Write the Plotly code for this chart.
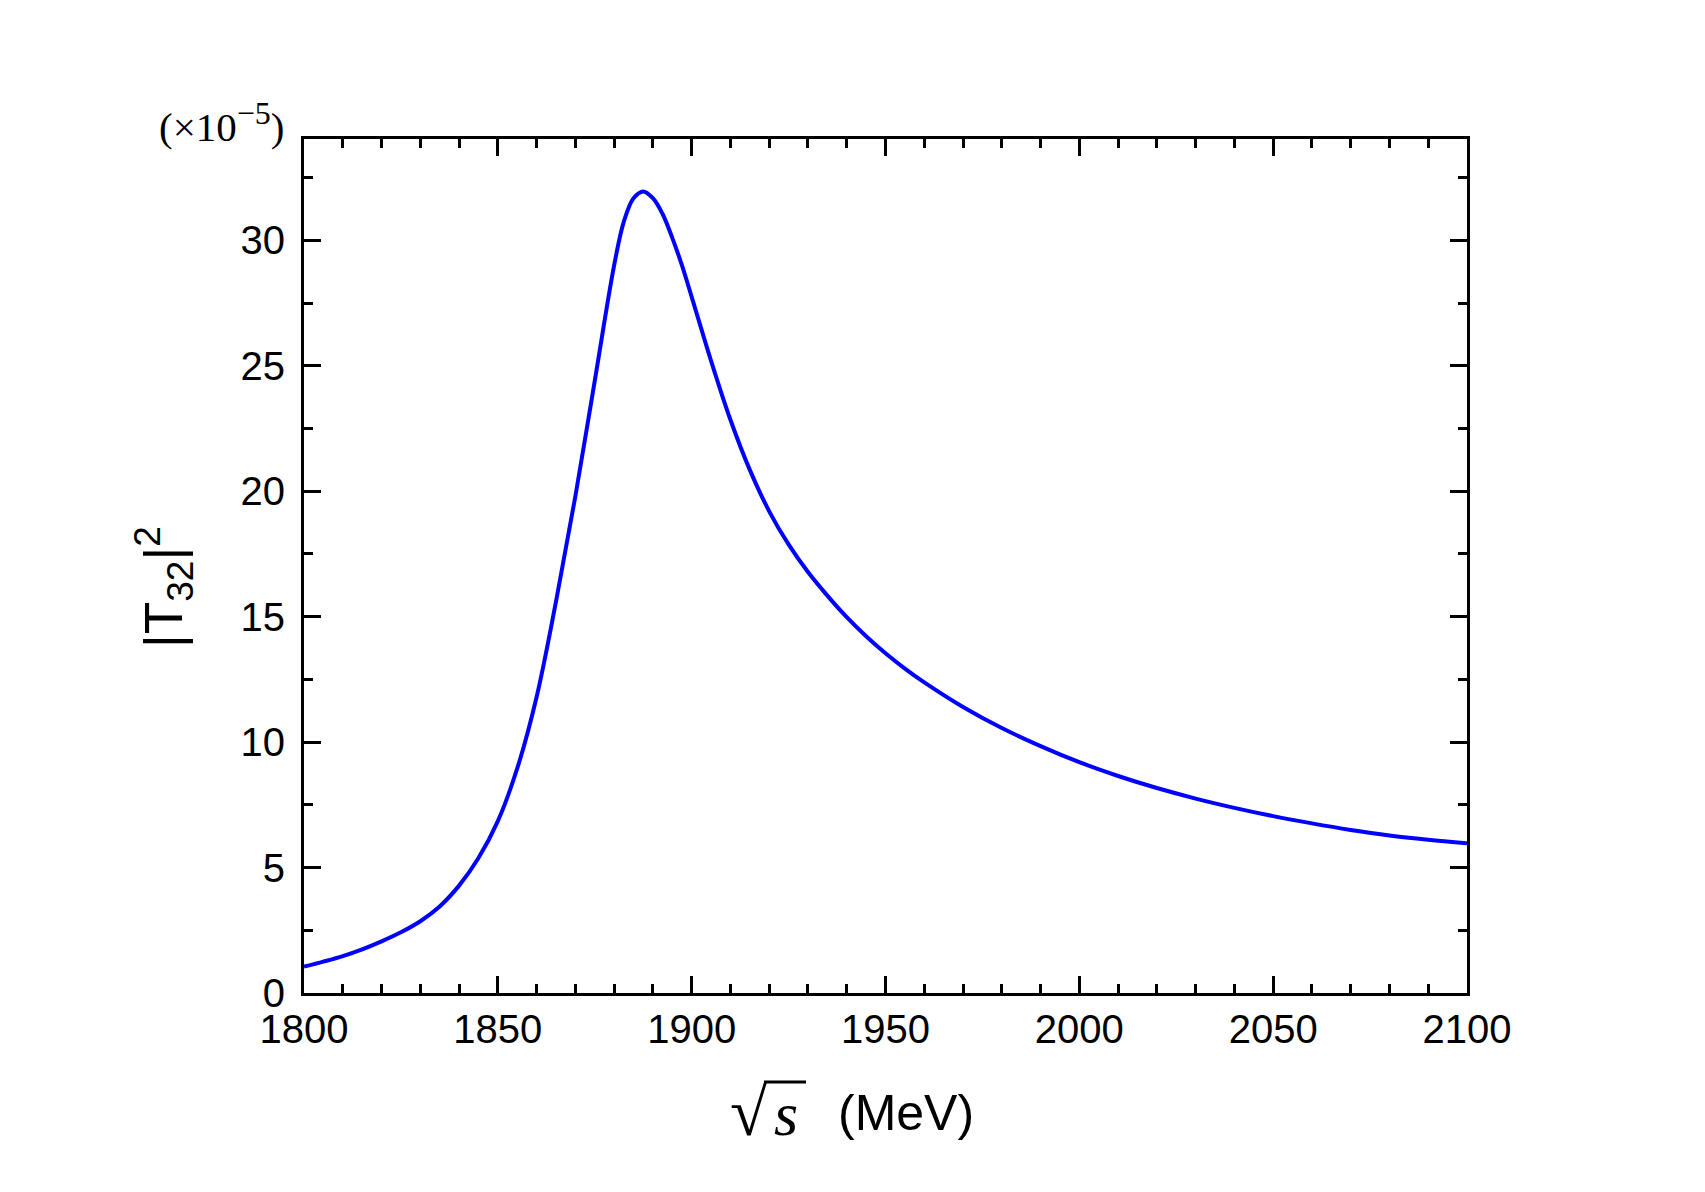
import plotly.graph_objects as go

# Data
sqrt_s = [1800, 1805, 1810, 1815, 1820, 1825, 1830, 1835, 1840, 1845,
          1850, 1855, 1860, 1865, 1870, 1875, 1880, 1882.5, 1885, 1887.5,
          1890, 1892.5, 1895, 1897.5, 1900, 1905, 1910, 1915, 1920, 1925,
          1930, 1935, 1940, 1945, 1950, 1955, 1960, 1970, 1980, 1990,
          2000, 2010, 2020, 2030, 2040, 2050, 2060, 2070, 2080, 2090, 2100]
t32_sq = [1.05, 1.25, 1.47, 1.74, 2.06, 2.42, 2.86, 3.45, 4.28, 5.38,
          6.85, 8.95, 11.8, 15.6, 19.8, 24.4, 29.0, 30.75, 31.68, 31.95,
          31.68, 31.05, 30.1, 29.0, 27.75, 25.2, 22.85, 20.85, 19.2, 17.88,
          16.78, 15.84, 14.98, 14.22, 13.54, 12.93, 12.38, 11.40, 10.56, 9.84,
          9.20, 8.65, 8.17, 7.75, 7.38, 7.05, 6.76, 6.50, 6.28, 6.11, 5.97]

x_ticks = [1800, 1850, 1900, 1950, 2000, 2050, 2100]
y_ticks = [0, 5, 10, 15, 20, 25, 30]

W, H = 1705, 1192
L, R, T, B = 304, 1467, 139, 993


def px(xp):
    return (xp - L) / (R - L)


def py(yp):
    return (B - yp) / (B - T)


fig = go.Figure()
fig.add_trace(go.Scatter(
    x=sqrt_s, y=t32_sq, mode="lines",
    line=dict(color="#0000FF", width=4, shape="spline", smoothing=1.0),
    showlegend=False, hoverinfo="skip"))

axis_common = dict(
    showgrid=False, zeroline=False, showline=True, linecolor="black",
    linewidth=3, mirror="allticks", ticks="inside", ticklen=17,
    tickwidth=3, tickcolor="black",
    tickfont=dict(family="Liberation Sans, Arial", size=40, color="black"),
)

fig.update_xaxes(range=[1800, 2100], tickvals=x_ticks,
                 ticktext=[str(v) for v in x_ticks],
                 minor=dict(dtick=10, ticks="inside", ticklen=9, tickwidth=3,
                            tickcolor="black", showgrid=False),
                 ticklabelstandoff=-1, **axis_common)
fig.update_yaxes(range=[0, 34.04], tickvals=y_ticks,
                 ticktext=[str(v) for v in y_ticks],
                 minor=dict(dtick=2.5, ticks="inside", ticklen=9, tickwidth=3,
                            tickcolor="black", showgrid=False),
                 ticklabelstandoff=8, **axis_common)

annotations = [
    # y-axis title
    dict(text="|T<sub>32</sub>|<sup>2</sup>", x=px(163), y=py(587),
         xref="paper", yref="paper", showarrow=False, textangle=-90,
         font=dict(family="Liberation Sans, Arial", size=53, color="black"),
         xanchor="center", yanchor="middle"),
    # exponent factor
    dict(text="(×10<sup><span style=\"font-size:32px\">−5</span></sup>)",
         x=px(286), y=py(122),
         xref="paper", yref="paper", showarrow=False,
         font=dict(family="Liberation Serif, Times New Roman", size=41,
                   color="black"),
         xanchor="right", yanchor="middle"),
    # x-axis title parts
    dict(text="√", x=px(728), y=py(1112),
         xref="paper", yref="paper", showarrow=False,
         font=dict(family="Liberation Serif, Times New Roman", size=68,
                   color="black"),
         xanchor="left", yanchor="middle"),
    dict(text="<i>s</i>", x=px(772), y=py(1114),
         xref="paper", yref="paper", showarrow=False,
         font=dict(family="Liberation Serif, Times New Roman", size=62,
                   color="black"),
         xanchor="left", yanchor="middle"),
    dict(text="(MeV)", x=px(836), y=py(1113),
         xref="paper", yref="paper", showarrow=False,
         font=dict(family="Liberation Sans, Arial", size=50, color="black"),
         xanchor="left", yanchor="middle"),
]

fig.update_layout(
    width=W, height=H,
    margin=dict(l=L, r=W - R, t=T, b=H - B),
    paper_bgcolor="white", plot_bgcolor="white",
    annotations=annotations,
    shapes=[dict(type="line", xref="paper", yref="paper",
                 x0=px(764), x1=px(806), y0=py(1082), y1=py(1082),
                 line=dict(color="black", width=3))],
)

fig.write_html("out.html")
